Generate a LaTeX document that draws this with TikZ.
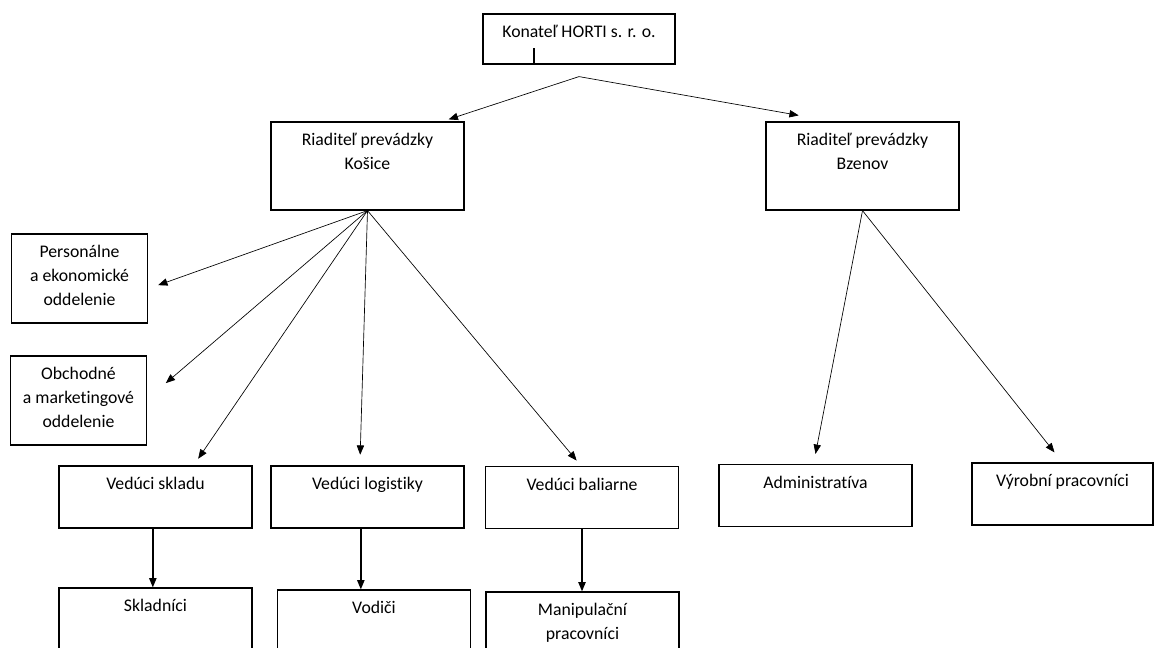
\documentclass[tikz,border=0pt]{standalone}
\usepackage{fontspec}
\setmainfont[Ligatures=CommonOff]{Carlito}
\usetikzlibrary{arrows.meta}

\tikzset{
  unit/.style={draw,line width=0.9pt,minimum width=144.75pt,minimum height=46.5pt},
  tall/.style={minimum height=66pt},
  dept/.style={minimum width=102pt,minimum height=66.75pt},
  head/.style={label={[anchor=north,inner sep=0pt,yshift=-9pt,align=center]north:#1}},
  arr/.style={-{Triangle[length=7pt,width=5.5pt]},line width=0.5pt},
  down/.style={-{Triangle[length=7pt,width=5.5pt]},line width=1pt}
}

\begin{document}
\begin{tikzpicture}
[x=0.75pt,y=-0.75pt,%
  every node/.style={font=\fontsize{13.3pt}{17.8pt}\selectfont}]
\useasboundingbox (0,0) rectangle (1155,648);
% top
\node[unit,minimum width=144pt,minimum height=37.5pt,head={Konateľ HORTI s. r. o.}] (konatel) at (579,39) {};
\draw[line width=0.8pt] ([xshift=-33.75pt]konatel.south) -- ++(0,-17);
% plants
\node[unit,tall,head={Riaditeľ prevádzky\\Košice}] (kosice) at (367.5,166) {};
\node[unit,tall,head={Riaditeľ prevádzky\\Bzenov}] (bzenov) at (862.5,166) {};
% departments
\node[unit,dept,head={Personálne\\a ekonomické\\oddelenie}] (pers) at (79.5,278.5) {};
\node[unit,dept,head={Obchodné\\a marketingové\\oddelenie}] (obch) at (78.5,400.5) {};
% heads
\node[unit,head={Vedúci skladu}] (sklad) at (155.5,497) {};
\node[unit,head={Vedúci logistiky}] (logist) at (367.5,497) {};
\node[unit,head={Vedúci baliarne}] (baliar) at (582,497.5) {};
\node[unit,head={Administratíva}] (admin) at (815.5,495.5) {};
\node[unit,minimum width=135.75pt,head={Výrobní pracovníci}] (vyrob) at (1062.5,494) {};
% workers
\node[unit,minimum height=60pt,head={Skladníci}] (skladnici) at (155.5,628) {};
\node[unit,minimum height=60pt,head={Vodiči}] (vodici) at (374,630) {};
\node[unit,minimum height=60pt,head={Manipulační\\pracovníci}] (manip) at (582.5,632) {};
% arrows
\draw[arr] ([yshift=-9pt]konatel.south) -- ([xshift=-12pt,yshift=1.5pt]kosice.north east);
\draw[arr] ([yshift=-9pt]konatel.south) -- ([xshift=25pt,yshift=4.5pt]bzenov.north west);
\draw[arr] (kosice.south) -- ([xshift=7.5pt,yshift=-5pt]pers.east);
\draw[arr] (kosice.south) -- ([xshift=14pt,yshift=13pt]obch.east);
\draw[arr] (kosice.south) -- ([xshift=32pt,yshift=5pt]sklad.north);
\draw[arr] (kosice.south) -- ([xshift=-5.5pt,yshift=8pt]logist.north);
\draw[arr] (kosice.south) -- ([xshift=-4pt,yshift=4pt]baliar.north);
\draw[arr] (bzenov.south) -- ([yshift=7.5pt]admin.north);
\draw[arr] (bzenov.south) -- ([xshift=-6pt,yshift=7.5pt]vyrob.north);
\draw[down] ([xshift=-2pt]sklad.south) -- ([xshift=-2pt]sklad.south |- skladnici.north);
\draw[down] ([xshift=-5pt]logist.south) -- ([xshift=-5pt]logist.south |- vodici.north);
\draw[down] (baliar.south) -- (baliar.south |- manip.north);
\end{tikzpicture}
\end{document}
